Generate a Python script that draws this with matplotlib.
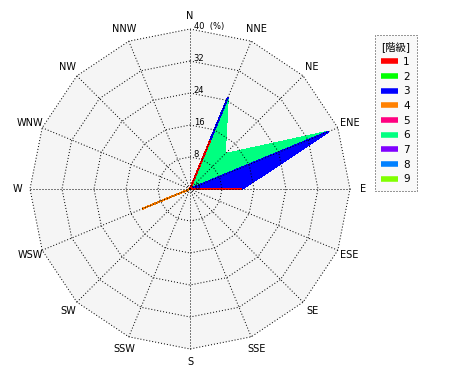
import matplotlib
matplotlib.use('Agg')
import matplotlib.pyplot as plt
import numpy as np
from matplotlib.lines import Line2D

plt.rcParams['font.family'] = ['DejaVu Sans', 'Noto Sans CJK JP']
plt.rcParams['lines.scale_dashes'] = False

# 16 directions, clockwise from north
directions = ['N', 'NNE', 'NE', 'ENE', 'E', 'ESE', 'SE', 'SSE',
              'S', 'SSW', 'SW', 'WSW', 'W', 'WNW', 'NW', 'NNW']

# frequency (%) per class and direction
class1 = [0, 13.0, 0, 0, 13.0, 0, 0, 0, 0, 0, 0, 0, 0, 0, 0, 0]
class2 = [0] * 16
class3 = [0, 11.7, 0, 37.5, 0, 0, 0, 0, 0, 0, 0, 0, 0, 0, 0, 0]
class4 = [0, 0, 0, 0, 0, 0, 0, 0, 0, 0, 0, 12.8, 0, 0, 0, 0]
class5 = [0] * 16
class6 = [0, 0, 12.3, 0, 0, 0, 0, 0, 0, 0, 0, 0, 0, 0, 0, 0]
class7 = [0] * 16
class8 = [0] * 16
class9 = [0] * 16

class_labels = ['1', '2', '3', '4', '5', '6', '7', '8', '9']
class_colors = ['#ff0000', '#00ff00', '#0000ff', '#ff8000', '#ff0080',
                '#00ff80', '#8000ff', '#0080ff', '#80ff00']

ring_values = [8, 16, 24, 32, 40]
ring_labels = ['8', '16', '24', '32', '40  (%)']
r_max = 40

theta = np.deg2rad(np.arange(16) * 22.5)


def xy(r):
    r = np.asarray(r, dtype=float)
    return r * np.sin(theta), r * np.cos(theta)


def closed(a):
    return np.append(a, a[0])


fig = plt.figure(figsize=(4.7, 3.8), dpi=100)
ax = fig.add_axes([20 / 470, 21 / 380, 340 / 470, 340 / 380])
ax.set_xlim(-42.5, 42.5)
ax.set_ylim(-42.5, 42.5)
ax.set_aspect('equal')
ax.axis('off')

lw = 0.72
dot = (0, (0.72, 1.44))

# background polygon
bx, by = xy([r_max] * 16)
ax.fill(closed(bx), closed(by), color='#f5f5f5', lw=0, zorder=1)

# stacked polygons, outermost first
data = np.array([class1, class2, class3, class4, class5,
                 class6, class7, class8, class9])
cum = np.cumsum(data, axis=0)
for k in range(len(class_labels) - 1, -1, -1):
    px, py = xy(cum[k])
    ax.fill(closed(px), closed(py), facecolor=class_colors[k],
            edgecolor=class_colors[k], lw=lw, antialiased=False, zorder=2)

# rings and spokes
for r in ring_values:
    gx, gy = xy([r] * 16)
    ax.plot(closed(gx), closed(gy), color='black', lw=lw, ls=dot,
            zorder=3)
ox, oy = xy([r_max] * 16)
for i in range(16):
    ax.plot([0, ox[i]], [0, oy[i]], color='black', lw=lw, ls=dot,
            zorder=3)

# radial labels
for r, lab in zip(ring_values, ring_labels):
    ax.text(0.9, r + 0.6, lab, fontsize=6, ha='left', va='center', zorder=4)
ax.text(1.2, 0.4, '0', fontsize=6, ha='left', va='center', zorder=4)

# direction labels
lx, ly = xy([43.2] * 16)
for i, d in enumerate(directions):
    ax.text(lx[i], ly[i], d, fontsize=7, ha='center', va='center',
            clip_on=False)

# legend
handles = [Line2D([], [], color=c, lw=4, solid_capstyle='butt')
           for c in class_colors]
leg = fig.legend(handles, class_labels, title='[階級]',
                 loc='upper left', bbox_to_anchor=(375 / 470, 1 - 35 / 380),
                 fontsize=7.5, title_fontsize=7.5, frameon=True,
                 fancybox=False, handlelength=1.6, handletextpad=0.5,
                 labelspacing=0.45, borderpad=0.6, borderaxespad=0)
frame = leg.get_frame()
frame.set_facecolor('#f8f8f8')
frame.set_edgecolor('black')
frame.set_linestyle(dot)
frame.set_linewidth(lw)
leg._legend_box.align = 'left'
leg.get_title().set_ha('center')

fig.savefig('out.png', dpi=100)
